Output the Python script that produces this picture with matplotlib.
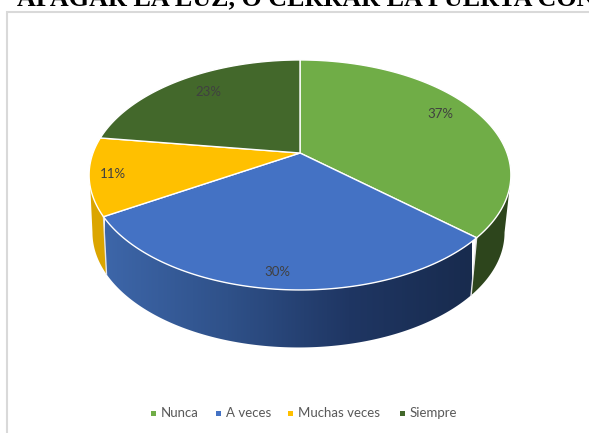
import numpy as np
import matplotlib
matplotlib.use('Agg')
import matplotlib.pyplot as plt
from matplotlib.patches import Polygon, Rectangle
from matplotlib.colors import LinearSegmentedColormap

categories = ['Nunca', 'A veces', 'Muchas veces', 'Siempre']
values = [37, 30, 11, 23]
top_colors = ['#70AD47', '#4472C4', '#FFC000', '#43682B']
title = 'APAGAR LA LUZ, O CERRAR LA PUERTA CON'

# perspective of the disc, everything in pixels
CX, CY = 300, 153
A, B, K = 207, 110.8, 0.191
DEPTH = 57.5


def top_rim(theta):
    u, v = np.sin(theta), np.cos(theta)
    w = 1 + K * v
    return np.column_stack([CX + A * u / w, CY - B * v / w])


def bottom_rim(theta):
    u, v = np.sin(theta), np.cos(theta)
    w = 1 + K * v
    return np.column_stack([298.5 + 0.977 * A * u / w, CY + DEPTH - B * v / w])


def arc(a, b):
    n = max(int(abs(b - a) * 80), 2)
    return np.linspace(a, b, n)


fig = plt.figure(figsize=(5.89, 4.33), dpi=100)
ax = fig.add_axes([0, 0, 1, 1])
ax.set_xlim(0, 589)
ax.set_ylim(433, 0)
ax.axis('off')

# chart frame
ax.add_patch(Rectangle((7, 12), 620, 460, fc='white', ec='#D9D9D9', lw=1.5, zorder=0))

ax.text(17, 5, title, family='Liberation Serif', weight='bold', fontsize=18.8,
        color='black', ha='left', va='baseline', clip_on=False)

edges = np.cumsum([0] + values) / sum(values) * 2 * np.pi

# side wall, yellow
poly = np.vstack([top_rim(arc(edges[2], np.radians(262))), bottom_rim(arc(np.radians(259), edges[2]))])
ax.add_patch(Polygon(poly, fc='#DBA500', ec='none', zorder=1))

# side wall, dark green
poly = np.vstack([top_rim(arc(np.radians(107), edges[1])), bottom_rim(arc(edges[1], np.radians(101)))])
ax.add_patch(Polygon(poly, fc='#2D451C', ec='none', zorder=1))

# side wall, blue with a horizontal gradient
poly = np.vstack([top_rim(arc(edges[1], edges[2])), bottom_rim(arc(edges[2], edges[1]))])
patch = Polygon(poly, fc='none', ec='none', zorder=1)
ax.add_patch(patch)
cmap = LinearSegmentedColormap.from_list('side', ['#3D66A9', '#2F5189', '#1F3663', '#182B4E'])
grad = np.linspace(0, 1, 256).reshape(1, -1)
im = ax.imshow(grad, cmap=cmap, extent=(105, 472, 350, 210), aspect='auto', zorder=1)
im.set_clip_path(patch)
ax.set_xlim(0, 589)
ax.set_ylim(433, 0)

# seams between the walls
for e in (edges[1], edges[2]):
    t = np.array([e])
    p = np.vstack([top_rim(t), bottom_rim(t)])
    ax.plot(p[:, 0], p[:, 1], color='#E4E4E4', lw=1, zorder=2)

# top face
for i, col in enumerate(top_colors):
    pts = np.vstack([[CX, CY], top_rim(arc(edges[i], edges[i + 1]))])
    ax.add_patch(Polygon(pts, fc=col, ec='white', lw=1, joinstyle='round', zorder=3))

label_xy = [(440, 114), (277, 272), (113, 174), (208, 92)]
for v, (x, y) in zip(values, label_xy):
    ax.text(x, y, f'{v}%', family='Lato', fontsize=9.5, color='#404040',
            ha='center', va='center', zorder=4)

# legend laid out by hand along the bottom
marker_x = [153, 218, 290, 402]
for name, col, x in zip(categories, top_colors, marker_x):
    ax.add_patch(Rectangle((x - 2.5, 410.5), 5, 5, fc=col, ec='none', zorder=4))
    ax.text(x + 8, 413, name, family='Lato', fontsize=9.5, color='#595959',
            ha='left', va='center', zorder=4)

fig.savefig('out.png', dpi=100)
